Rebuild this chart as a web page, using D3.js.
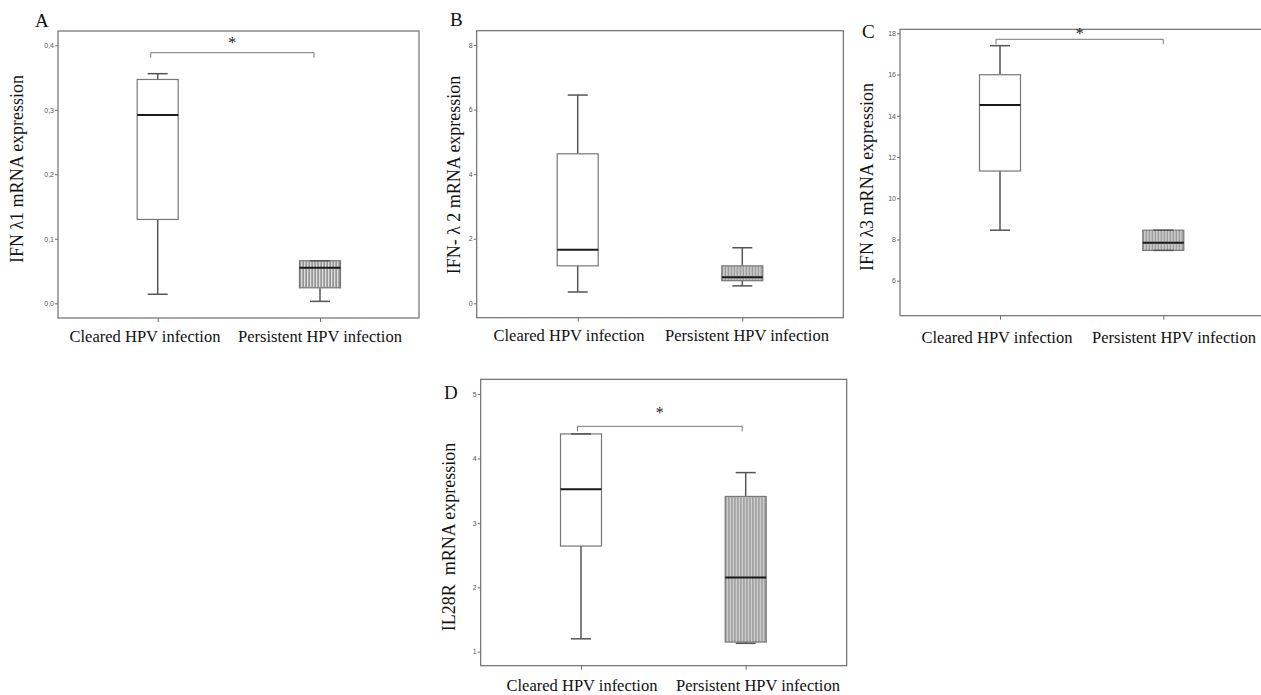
<!DOCTYPE html>
<html>
<head>
<meta charset="utf-8">
<script src="https://cdn.jsdelivr.net/npm/d3@7"></script>
<style>
  body { margin: 0; background: #fff; }
  svg { display: block; }
</style>
</head>
<body>
<div id="chart"></div>
<script>
// groups on the x axis, same for every panel
var categories = ['Cleared HPV infection', 'Persistent HPV infection'];

var panelLetters = ['A', 'B', 'C', 'D'];
var yLabels = ['IFN \u03BB1 mRNA expression', 'IFN- \u03BB 2 mRNA expression',
               'IFN \u03BB3 mRNA expression', 'IL28R\u00A0 mRNA expression'];

// y tick values per panel
var ticksA = [0, 0.1, 0.2, 0.3, 0.4];
var ticksB = [0, 2, 4, 6, 8];
var ticksC = [6, 8, 10, 12, 14, 16, 18];
var ticksD = [1, 2, 3, 4, 5];

// box stats [whisker low, Q1, median, Q3, whisker high] for cleared / persistent
var boxA = [[0.014, 0.130, 0.292, 0.347, 0.356], [0.003, 0.024, 0.055, 0.066, 0.066]];
var boxB = [[0.35, 1.16, 1.66, 4.63, 6.45], [0.54, 0.70, 0.81, 1.16, 1.72]];
var boxC = [[8.45, 11.32, 14.52, 15.99, 17.4], [7.47, 7.47, 7.84, 8.45, 8.45]];
var boxD = [[1.20, 2.64, 3.52, 4.38, 4.38], [1.13, 1.15, 2.15, 3.41, 3.78]];

// significance marks (true = bracket with asterisk)
var signif = [true, false, true, true];

/*-- layout --*/
var width = 1261, height = 695;

// frame, tick anchors and label positions per panel
var layout = [
  { frame: [58, 419, 31, 318], ya: [0, 0.4], yr: [303.3, 45.3], xr: [157.7, 320], fmt: 'comma',
    letter: [35, 27], ylab: [23, 169], xlabY: 342, xlab: [145, 320], brY: 52.7, starY: 48 },
  { frame: [476.7, 843.3, 30.7, 317.7], ya: [0, 8], yr: [303.3, 45], xr: [577.7, 742.3], fmt: 'int',
    letter: [450, 26], ylab: [460, 175], xlabY: 341, xlab: [569, 747] },
  { frame: [900, 1262, 29.3, 315.7], ya: [6, 18], yr: [280.7, 33.3], xr: [1000, 1163.3], fmt: 'int',
    letter: [862, 38], ylab: [873, 177], xlabY: 343, xlab: [997, 1174], brY: 39.3, starY: 39 },
  { frame: [480.7, 846.7, 379.3, 665.7], ya: [1, 5], yr: [651.7, 394], xr: [581, 745.7], fmt: 'int',
    letter: [444, 399], ylab: [455, 537], xlabY: 691, xlab: [582, 758], brY: 426.3, starY: 418 }
];

var panels = [
  { ticks: ticksA, boxes: boxA },
  { ticks: ticksB, boxes: boxB },
  { ticks: ticksC, boxes: boxC },
  { ticks: ticksD, boxes: boxD }
];

var svg = d3.select('#chart')
  .append('svg')
    .attr('width', width)
    .attr('height', height);

// vertical hatch for the persistent group
var defs = svg.append('defs');
var pat = defs.append('pattern')
  .attr('id', 'hatch')
  .attr('patternUnits', 'userSpaceOnUse')
  .attr('width', 3)
  .attr('height', 10);
pat.append('rect').attr('width', 3).attr('height', 10).attr('fill', '#dcdcdc');
pat.append('rect').attr('x', 0.5).attr('width', 1.2).attr('height', 10).attr('fill', '#7a7a7a');

var serif = '"Liberation Serif", "Times New Roman", serif';
var boxW = 41, capW = 20;

panels.forEach(function( p, i )
{
  var L = layout[i],
      g = svg.append('g').attr('class', 'panel'),
      y = d3.scaleLinear().domain(L.ya).range(L.yr),
      x = d3.scalePoint().domain(categories).range(L.xr),
      fmt;

  if( L.fmt === 'comma' )
  {
    fmt = function(d) { return d3.format('.1f')(d).replace('.', ','); };
  }
  else
  {
    fmt = d3.format('d');
  }

  // frame
  g.append('rect')
    .attr('x', L.frame[0])
    .attr('y', L.frame[2])
    .attr('width', L.frame[1] - L.frame[0])
    .attr('height', L.frame[3] - L.frame[2])
    .attr('fill', 'none')
    .attr('stroke', '#6e6e6e')
    .attr('stroke-width', 1.2);

  // y axis
  var yAxis = g.append('g')
    .attr('transform', 'translate(' + L.frame[0] + ',0)')
    .call(d3.axisLeft(y).tickValues(p.ticks).tickFormat(fmt).tickSize(3).tickPadding(1));
  yAxis.select('.domain').remove();
  yAxis.selectAll('line').attr('stroke', '#6e6e6e');
  yAxis.selectAll('text')
    .style('font-family', '"Liberation Sans", Arial, sans-serif')
    .style('font-size', '7px')
    .attr('fill', '#555');

  // x axis ticks
  var xAxis = g.append('g')
    .attr('transform', 'translate(0,' + L.frame[3] + ')')
    .call(d3.axisBottom(x).tickSize(4).tickFormat(''));
  xAxis.select('.domain').remove();
  xAxis.selectAll('line').attr('stroke', '#6e6e6e');

  // x labels
  g.selectAll('text.xlab')
    .data(categories)
    .enter()
      .append('text')
      .attr('class', 'xlab')
      .attr('x', function(d, j) { return L.xlab[j]; })
      .attr('y', L.xlabY)
      .attr('text-anchor', 'middle')
      .attr('font-family', serif)
      .attr('font-size', 16.5)
      .attr('fill', '#111')
      .text(function(d) { return d; });

  // y label
  g.append('text')
    .attr('transform', 'translate(' + L.ylab[0] + ',' + L.ylab[1] + ') rotate(-90)')
    .attr('text-anchor', 'middle')
    .attr('font-family', serif)
    .attr('font-size', 18)
    .attr('fill', '#111')
    .text(yLabels[i]);

  // panel letter
  g.append('text')
    .attr('x', L.letter[0])
    .attr('y', L.letter[1])
    .attr('font-family', serif)
    .attr('font-size', 19)
    .attr('fill', '#111')
    .text(panelLetters[i]);

  // boxes
  var bx = g.selectAll('g.box')
    .data(p.boxes)
    .enter()
      .append('g')
      .attr('class', 'box')
      .attr('transform', function(d, j) { return 'translate(' + x(categories[j]) + ',0)'; });

  // whiskers
  bx.append('line')
    .attr('x1', 0).attr('x2', 0)
    .attr('y1', function(d) { return y(d[0]); })
    .attr('y2', function(d) { return y(d[1]); })
    .attr('stroke', '#555').attr('stroke-width', 1.5);
  bx.append('line')
    .attr('x1', 0).attr('x2', 0)
    .attr('y1', function(d) { return y(d[3]); })
    .attr('y2', function(d) { return y(d[4]); })
    .attr('stroke', '#555').attr('stroke-width', 1.5);

  bx.append('rect')
    .attr('x', -boxW / 2)
    .attr('width', boxW)
    .attr('y', function(d) { return y(d[3]); })
    .attr('height', function(d) { return y(d[1]) - y(d[3]); })
    .attr('fill', function(d, j) { return j === 1 ? 'url(#hatch)' : '#fff'; })
    .attr('stroke', '#777')
    .attr('stroke-width', 1.2);

  // caps
  [0, 4].forEach(function( k )
  {
    bx.append('line')
      .attr('x1', -capW / 2).attr('x2', capW / 2)
      .attr('y1', function(d) { return y(d[k]); })
      .attr('y2', function(d) { return y(d[k]); })
      .attr('stroke', '#555').attr('stroke-width', 1.5);
  });

  // median
  bx.append('line')
    .attr('x1', -boxW / 2).attr('x2', boxW / 2)
    .attr('y1', function(d) { return y(d[2]); })
    .attr('y2', function(d) { return y(d[2]); })
    .attr('stroke', '#1a1a1a').attr('stroke-width', 2);

  // significance bracket
  if( signif[i] )
  {
    var x1 = x(categories[0]) - 7, x2 = x(categories[1]) - 6;
    if( i === 2 ) { x1 = x(categories[0]) - 4; x2 = x(categories[1]); }
    if( i === 3 ) { x1 = x(categories[0]) - 3.5; x2 = x(categories[1]) - 3.5; }
    g.append('path')
      .attr('d', 'M' + x1 + ',' + (L.brY + 5) + 'V' + L.brY + 'H' + x2 + 'V' + (L.brY + 5))
      .attr('fill', 'none')
      .attr('stroke', '#777')
      .attr('stroke-width', 1);
    g.append('text')
      .attr('x', (x1 + x2) / 2)
      .attr('y', L.starY)
      .attr('text-anchor', 'middle')
      .attr('font-family', serif)
      .attr('font-size', 16)
      .attr('fill', '#222')
      .text('*');
  }
});
</script>
</body>
</html>
